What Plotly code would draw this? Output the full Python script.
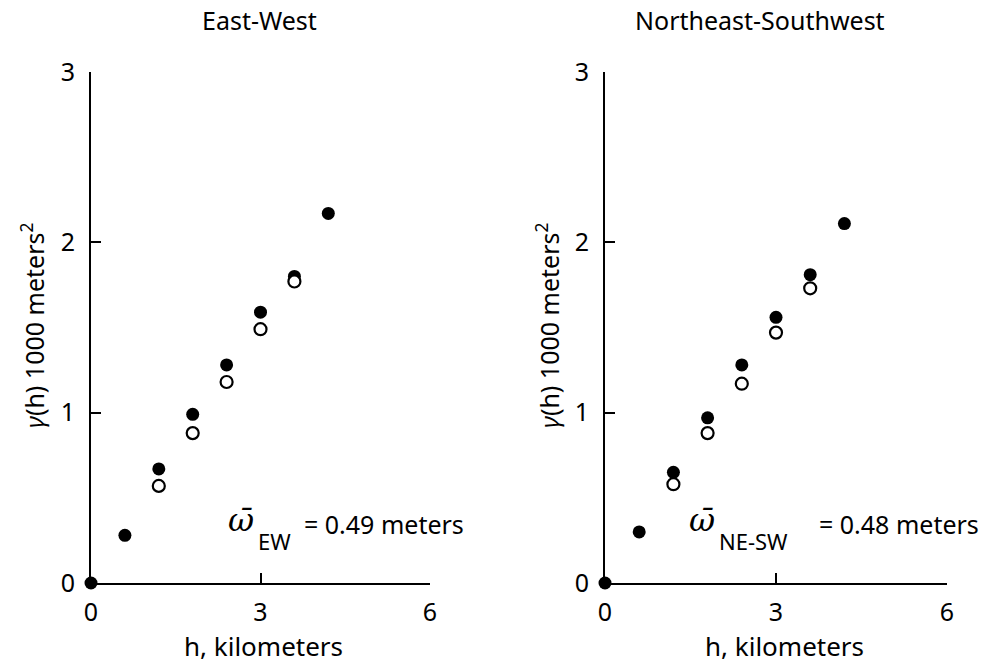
import plotly.graph_objects as go

# ---- data ----
h_filled = [0.0, 0.6, 1.2, 1.8, 2.4, 3.0, 3.6, 4.2]
h_open = [1.2, 1.8, 2.4, 3.0, 3.6]
ew_filled = [0.0, 0.28, 0.67, 0.99, 1.28, 1.59, 1.80, 2.17]
ew_open = [0.57, 0.88, 1.18, 1.49, 1.77]
ns_filled = [0.0, 0.30, 0.65, 0.97, 1.28, 1.56, 1.81, 2.11]
ns_open = [0.58, 0.88, 1.17, 1.47, 1.73]

panel_titles = ["East-West", "Northeast-Southwest"]
omega_subs = ["EW", "NE-SW"]
omega_vals = ["= 0.49 meters", "= 0.48 meters"]
x_ticks = [0, 3, 6]
y_ticks = [0, 1, 2, 3]

W, H = 988, 665
FONT = "Noto Sans"


def px(x):
    return x / W


def py(y):
    return 1 - y / H


fig = go.Figure()

for i, (yf, yo) in enumerate([(ew_filled, ew_open), (ns_filled, ns_open)]):
    xa = "x" if i == 0 else "x2"
    ya = "y" if i == 0 else "y2"
    fig.add_trace(go.Scatter(x=h_filled, y=yf, mode="markers", xaxis=xa, yaxis=ya,
                             marker=dict(symbol="circle", size=13, color="black"),
                             cliponaxis=False, showlegend=False))
    fig.add_trace(go.Scatter(x=h_open, y=yo, mode="markers", xaxis=xa, yaxis=ya,
                             marker=dict(symbol="circle", size=12, color="white",
                                         line=dict(color="black", width=2.2)),
                             cliponaxis=False, showlegend=False))

axis_common = dict(showline=True, linecolor="black", linewidth=2, ticks="inside",
                   ticklen=10, tickwidth=1.6, tickcolor="black", showgrid=False,
                   zeroline=False, automargin=False,
                   tickfont=dict(family=FONT, size=25, color="black"))

x_domains = [[px(91), px(430)], [px(605), px(947)]]
y_domain = [py(583), py(72)]

for i in range(2):
    sfx = "" if i == 0 else "2"
    fig.update_layout(**{
        "xaxis" + sfx: dict(axis_common, domain=x_domains[i], range=[0, 6],
                            tickvals=x_ticks, ticklabelstandoff=6,
                            anchor="y" + sfx),
        "yaxis" + sfx: dict(axis_common, domain=y_domain, range=[0, 3],
                            tickvals=y_ticks, ticklabelstandoff=9,
                            anchor="x" + sfx),
    })

ann = []
title_x = [259, 760]
xlabel_x = [263, 784]
ylabel_x = [32, 547]
omega_x = [241, 702]
sub_x = [256, 717]
val_x = [302, 817]
for i in range(2):
    ann.append(dict(x=px(title_x[i]), y=py(20), text=panel_titles[i],
                    font=dict(family=FONT, size=25, color="black")))
    ann.append(dict(x=px(xlabel_x[i]), y=py(646), text="h, kilometers",
                    font=dict(family=FONT, size=26, color="black")))
    ann.append(dict(x=px(ylabel_x[i]), y=py(326),
                    text="<i>γ</i>(h) 1000 meters<sup>2</sup>", textangle=-90,
                    font=dict(family=FONT, size=25, color="black")))
    ann.append(dict(x=px(omega_x[i]), y=py(520), text="<i>ω̄</i>",
                    font=dict(family="DejaVu Serif", size=32, color="black")))
    ann.append(dict(x=px(sub_x[i]), y=py(541), xanchor="left", text=omega_subs[i],
                    font=dict(family=FONT, size=22, color="black")))
    ann.append(dict(x=px(val_x[i]), y=py(524), xanchor="left", text=omega_vals[i],
                    font=dict(family=FONT, size=25, color="black")))

for a in ann:
    a.setdefault("xanchor", "center")
    a.update(xref="paper", yref="paper", yanchor="middle", showarrow=False)

fig.update_layout(width=W, height=H,
                  margin=dict(l=0, r=0, t=0, b=0, autoexpand=False),
                  paper_bgcolor="white", plot_bgcolor="white",
                  annotations=ann, showlegend=False)

fig.write_html("out.html", config={"displayModeBar": False},
               post_script="document.body.style.margin='0';document.body.style.padding='0';")
